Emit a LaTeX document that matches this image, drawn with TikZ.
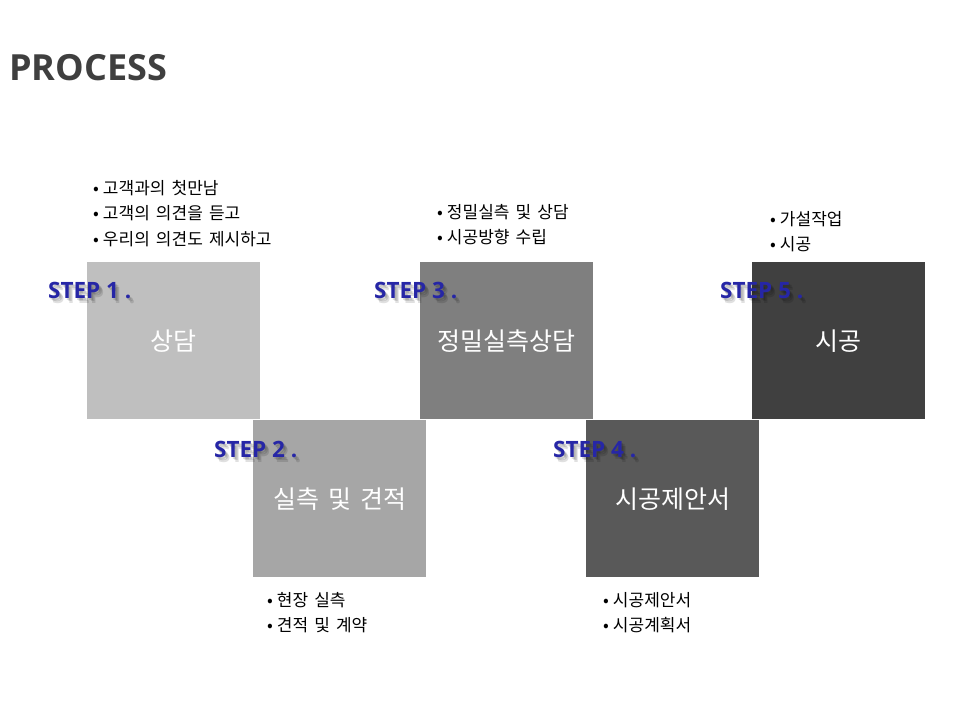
\documentclass[tikz,border=0pt]{standalone}
\usepackage{fontspec}
\setmainfont{Open Sans}
\newfontfamily\kr[WordSpace=1.6]{Noto Sans CJK KR}
\newfontfamily\stepfont{Open Sans}
\definecolor{c1}{HTML}{BFBFBF}
\definecolor{c2}{HTML}{A6A6A6}
\definecolor{c3}{HTML}{7F7F7F}
\definecolor{c4}{HTML}{595959}
\definecolor{c5}{HTML}{404040}
\definecolor{stepblue}{HTML}{2626A6}
\definecolor{titlegray}{HTML}{3F3F3F}
\tikzset{
  stepbox/.style={fill=#1, draw=none, minimum width=173pt, minimum height=157pt, inner sep=0pt, anchor=north west},
  boxtext/.style={text=white, font=\kr\fontsize{25}{30}\selectfont},
  steplabel/.style={text=stepblue, font=\stepfont\bfseries\fontsize{22.5}{26}\selectfont, anchor=west, inner sep=0pt},
  stepshadow/.style={text=black, opacity=0.12, font=\stepfont\bfseries\fontsize{22.5}{26}\selectfont, anchor=west, inner sep=0pt},
  bul/.style={font=\kr\fontsize{17}{20}\selectfont, anchor=west, inner sep=0pt, text=black},
}
\newcommand{\bt}{•\hspace{4pt}}
\begin{document}
\begin{tikzpicture}[x=1pt,y=-1pt]
\useasboundingbox (0,0) rectangle (960,720);
\fill[white] (0,0) rectangle (960,720);
\node[anchor=west, inner sep=0pt, text=titlegray, font=\bfseries\fontsize{36}{40}\selectfont] (title) at (9,68) {PROCESS};

\node[stepbox=c1] (b1) at (87,262) {};
\node[stepbox=c2] (b2) at (253,420) {};
\node[stepbox=c3] (b3) at (420,262) {};
\node[stepbox=c4] (b4) at (586,420) {};
\node[stepbox=c5] (b5) at (752,262) {};

\node[boxtext] (t1) at (b1.center) {상담};
\node[boxtext] (t2) at (b2.center) {실측 및 견적};
\node[boxtext] (t3) at (b3.center) {정밀실측상담};
\node[boxtext] (t4) at (b4.center) {시공제안서};
\node[boxtext] (t5) at (b5.center) {시공};

\foreach \n/\x/\y/\s in {1/48/290/1, 2/214/449/2, 3/374/290/3, 4/553/449/4, 5/720/290/5}{
  \node[stepshadow] (sha\n) at (\x+1.5,\y+2) {STEP \s\ .};
  \node[stepshadow] (shb\n) at (\x+3,\y+3.5) {STEP \s\ .};
  \node[stepshadow] (shc\n) at (\x+4,\y+5) {STEP \s\ .};
  \node[steplabel] (s\n) at (\x,\y) {STEP \s\ .};
}

\node[bul] (l1a) at (93,188) {\bt 고객과의 첫만남};
\node[bul] (l1b) at (93,213) {\bt 고객의 의견을 듣고};
\node[bul] (l1c) at (93,239) {\bt 우리의 의견도 제시하고};
\node[bul] (l3a) at (437,212) {\bt 정밀실측 및 상담};
\node[bul] (l3b) at (437,237) {\bt 시공방향 수립};
\node[bul] (l5a) at (770,219) {\bt 가설작업};
\node[bul] (l5b) at (770,244) {\bt 시공};
\node[bul] (l2a) at (267,600) {\bt 현장 실측};
\node[bul] (l2b) at (267,625) {\bt 견적 및 계약};
\node[bul] (l4a) at (603,600) {\bt 시공제안서};
\node[bul] (l4b) at (603,625) {\bt 시공계획서};
\end{tikzpicture}
\end{document}
